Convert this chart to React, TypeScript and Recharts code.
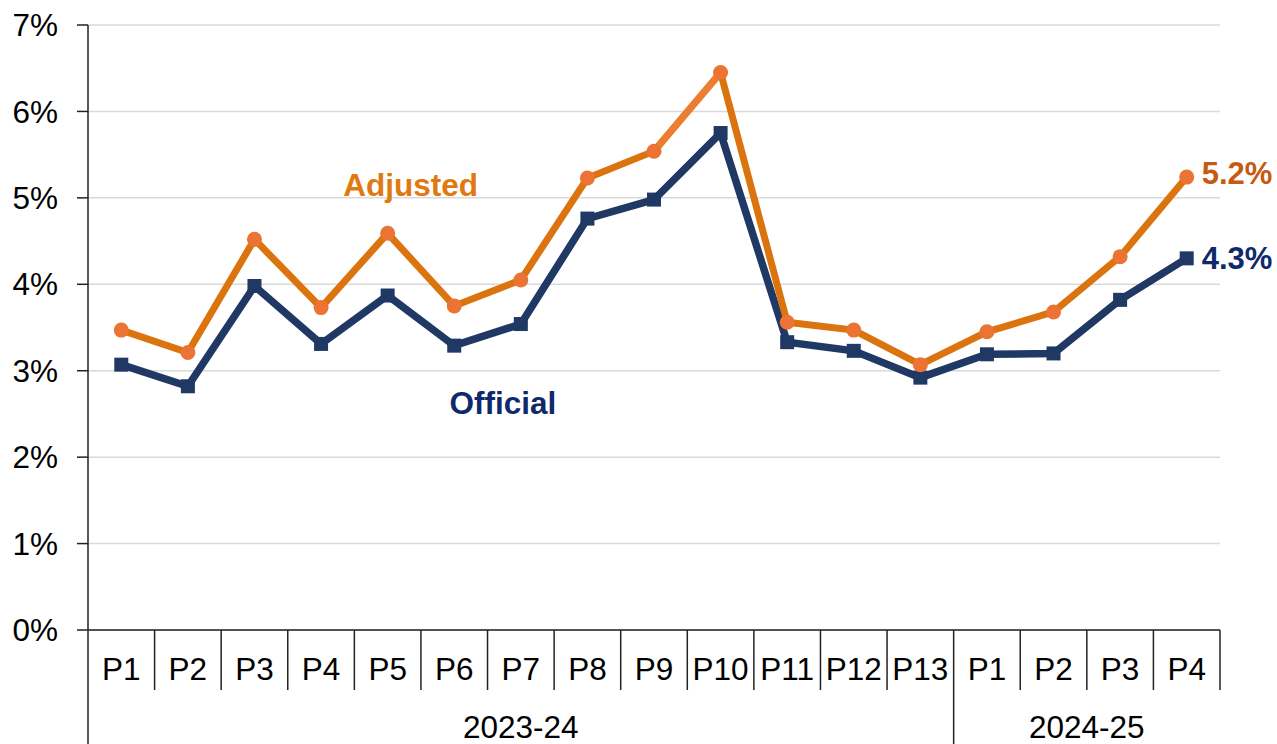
import { LineChart, Line, XAxis, YAxis, CartesianGrid, LabelList, ReferenceDot } from "recharts";

const periods = ["P1", "P2", "P3", "P4", "P5", "P6", "P7", "P8", "P9", "P10", "P11", "P12", "P13", "P1", "P2", "P3", "P4"];
const adjusted = [3.47, 3.21, 4.52, 3.73, 4.59, 3.75, 4.05, 5.23, 5.54, 6.45, 3.56, 3.47, 3.07, 3.45, 3.68, 4.32, 5.24];
const official = [3.07, 2.82, 3.98, 3.31, 3.87, 3.29, 3.54, 4.76, 4.98, 5.75, 3.33, 3.23, 2.92, 3.19, 3.2, 3.82, 4.3];
// the P9 -> P10 stretch of the adjusted line is drawn in a lighter orange
const lighterSegment = [8, 9];
const years = [
  { label: "2023-24", start: 0, count: 13 },
  { label: "2024-25", start: 13, count: 4 },
];
const yTicks = [0, 1, 2, 3, 4, 5, 6, 7];

const data = periods.map((p, i) => ({
  key: `${i}`,
  period: p,
  adjusted: adjusted[i],
  official: official[i],
  lighter: lighterSegment.includes(i) ? adjusted[i] : null,
}));

const FONT = "'Liberation Sans', Arial, sans-serif";
const ORANGE = "#DB740E";
const ORANGE_DOT = "#EB7334";
const NAVY = "#203864";

const PeriodTick = (props: any) => {
  const { x, y, payload, index } = props;
  const half = payload.offset;
  const left = x - half;
  const group = years.find((g) => g.start === index);
  const last = index === periods.length - 1;
  return (
    <g>
      <text x={x} y={y + 50} textAnchor="middle" fontSize={31.5} fill="#000" fontFamily={FONT}>
        {periods[index]}
      </text>
      <line x1={left} x2={left} y1={y} y2={group ? y + 114 : y + 60} stroke="#222" strokeWidth={1.5} />
      {last && <line x1={x + half} x2={x + half} y1={y} y2={y + 60} stroke="#222" strokeWidth={1.5} />}
      {group && (
        <text x={left + group.count * half} y={y + 108} textAnchor="middle" fontSize={31.5} fill="#000" fontFamily={FONT}>
          {group.label}
        </text>
      )}
    </g>
  );
};

const endLabel = (color: string, dy: number) => (props: any) => {
  const { x, y, value, index } = props;
  if (index !== periods.length - 1) return null;
  return (
    <text x={x + 15} y={y + dy} fontSize={31} fontWeight="bold" fill={color} fontFamily={FONT} dominantBaseline="central">
      {`${value.toFixed(1)}%`}
    </text>
  );
};

const SquareDot = (props: any) => {
  const { cx, cy } = props;
  return <rect x={cx - 7} y={cy - 7} width={14} height={14} fill={NAVY} />;
};

export default function App() {
  return (
    <div style={{ position: "absolute", left: 0, top: 0, background: "#fff" }}>
      <LineChart
        width={1277}
        height={744}
        data={data}
        margin={{ top: 25, right: 57, left: 0, bottom: 0 }}
        style={{ fontFamily: FONT }}
      >
        <CartesianGrid vertical={false} stroke="#d9d9d9" strokeWidth={1.5} />
        <XAxis
          dataKey="key"
          scale="band"
          height={114}
          interval={0}
          tickLine={false}
          tickSize={0}
          tickMargin={0}
          axisLine={{ stroke: "#222", strokeWidth: 1.5 }}
          tick={<PeriodTick />}
        />
        <YAxis
          width={88}
          domain={[0, 7]}
          ticks={yTicks}
          interval={0}
          tickFormatter={(v) => `${v}%`}
          tick={{ fontSize: 31.5, fill: "#000", fontFamily: FONT }}
          tickSize={11}
          tickMargin={19}
          tickLine={{ stroke: "#222", strokeWidth: 1.5 }}
          axisLine={{ stroke: "#222", strokeWidth: 1.5 }}
        />
        <Line
          dataKey="official"
          stroke={NAVY}
          strokeWidth={7.5}
          isAnimationActive={false}
          dot={<SquareDot />}
        >
          <LabelList dataKey="official" content={endLabel("#0E2A6B", 0)} />
        </Line>
        <Line
          dataKey="adjusted"
          stroke={ORANGE}
          strokeWidth={7}
          isAnimationActive={false}
          dot={{ r: 7.5, fill: ORANGE_DOT, stroke: "none" }}
        >
          <LabelList dataKey="adjusted" content={endLabel("#C55A11", -4)} />
        </Line>
        <Line
          dataKey="lighter"
          stroke="#ED7D31"
          strokeWidth={7}
          dot={false}
          activeDot={false}
          isAnimationActive={false}
        />
        <ReferenceDot
          x="4"
          y={5.15}
          r={0}
          label={{ value: "Adjusted", position: "center", dx: 23, dy: 0, fontSize: 31.5, fontWeight: "bold", fill: "#E07A10" }}
        />
        <ReferenceDot
          x="6"
          y={2.63}
          r={0}
          label={{ value: "Official", position: "center", dx: -18, fontSize: 31.5, fontWeight: "bold", fill: "#0E2A6B" }}
        />
      </LineChart>
    </div>
  );
}
